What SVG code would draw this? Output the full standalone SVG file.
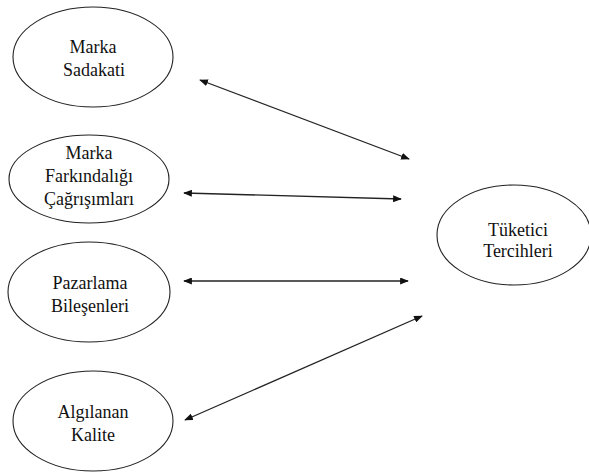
<svg xmlns="http://www.w3.org/2000/svg" width="589" height="473" viewBox="0 0 589 473">
<style>
.n ellipse{fill:#fff;stroke:#222;stroke-width:1.1}
.n text{font-family:"Liberation Serif","Times New Roman",serif;font-size:18px;fill:#111;text-anchor:middle}
.c line{stroke:#222;stroke-width:1.3;marker-start:url(#ah);marker-end:url(#ah)}
</style>
<defs>
<marker id="ah" markerUnits="userSpaceOnUse" viewBox="0 0 10 8" refX="9" refY="4" markerWidth="9" markerHeight="7" orient="auto-start-reverse">
<path d="M0,0 L10,4 L0,8 Z" fill="#111"/>
</marker>
</defs>
<rect width="589" height="473" fill="#fff"/>
<g id="marka-sadakati" class="n">
<ellipse cx="93" cy="57" rx="80" ry="50"/>
<text x="93" y="53">Marka</text>
<text x="94" y="76">Sadakati</text>
</g>
<g id="marka-farkindaligi" class="n">
<ellipse cx="89" cy="179" rx="80" ry="44"/>
<text x="89" y="159">Marka</text>
<text x="89" y="182">Farkındalığı</text>
<text x="89" y="205">Çağrışımları</text>
</g>
<g id="pazarlama" class="n">
<ellipse cx="89" cy="292" rx="81" ry="50"/>
<text x="90" y="289">Pazarlama</text>
<text x="90" y="312">Bileşenleri</text>
</g>
<g id="algilanan" class="n">
<ellipse cx="93" cy="421" rx="80" ry="50"/>
<text x="93" y="418">Algılanan</text>
<text x="93" y="441">Kalite</text>
</g>
<g id="tuketici" class="n">
<ellipse cx="514" cy="235" rx="77" ry="50"/>
<text x="518" y="236">Tüketici</text>
<text x="518" y="257">Tercihleri</text>
</g>
<g id="connectors" class="c">
<line x1="200" y1="80" x2="409" y2="159"/>
<line x1="184" y1="193" x2="401" y2="199"/>
<line x1="184" y1="281" x2="408" y2="281"/>
<line x1="422" y1="316" x2="185" y2="420"/>
</g>
</svg>
